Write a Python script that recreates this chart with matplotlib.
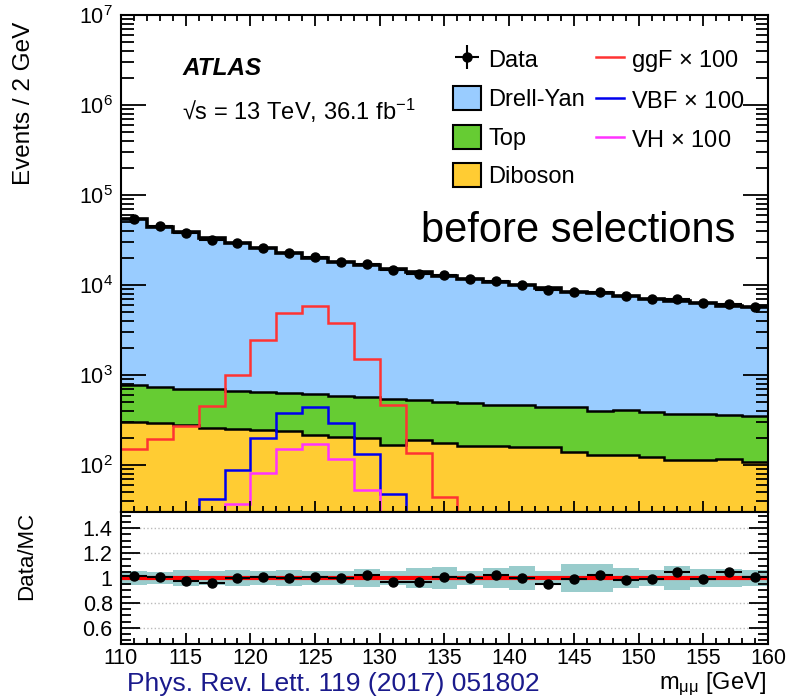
"""
ATLAS H->mumu invariant mass, before selections, with data/MC ratio panel
"""

import matplotlib
matplotlib.use('Agg')
import matplotlib.pyplot as plt
import numpy as np
from matplotlib.ticker import MultipleLocator, LogLocator, FuncFormatter, NullFormatter
from matplotlib.patches import Patch
from matplotlib.lines import Line2D

plt.rcParams['font.family'] = ['Liberation Sans', 'DejaVu Sans']
plt.rcParams['mathtext.fontset'] = 'custom'
plt.rcParams['mathtext.rm'] = 'Liberation Sans'
plt.rcParams['mathtext.it'] = 'Liberation Sans:italic'
plt.rcParams['mathtext.bf'] = 'Liberation Sans:bold'

# bins of m_mumu (2 GeV)
bin_edges = list(range(110, 162, 2))

# backgrounds (events / 2 GeV)
drell_yan = [53230, 43760, 37800, 32310, 28340, 24850, 21860, 19490, 17520, 16130,
             14450, 13270, 12200, 11170, 10240, 9540, 8895, 7990, 7750, 7190,
             6600, 6325, 5935, 5530, 5300]
top = [471, 451, 424, 435, 411, 402, 398, 397, 382, 376, 379, 344, 321, 321, 301,
       303, 285, 297, 273, 279, 269, 252, 252, 242, 243]
diboson = [303, 290, 281, 258, 253, 245, 239, 214, 203, 198, 167, 188, 177, 163, 163,
           157, 160, 141, 129, 129, 122, 114, 114, 117, 107]

# observed data
data_counts = [54700, 44720, 37690, 31610, 29090, 25630, 22430, 20200, 18050, 17050,
               14570, 13330, 12830, 11650, 10980, 10000, 8900, 8390, 8360, 7500,
               6955, 7025, 6270, 6155, 5680]

# signals x 100
ggf_x100 = [151, 193, 271, 453, 1000, 2450, 4920, 5840, 3750, 1490, 464, 135, 44.5,
            0, 0, 0, 0, 0, 0, 0, 0, 0, 0, 0, 0]
vbf_x100 = [0, 0, 0, 42, 88, 201, 375, 441, 290, 131, 47, 0, 0,
            0, 0, 0, 0, 0, 0, 0, 0, 0, 0, 0, 0]
vh_x100 = [0, 0, 0, 0, 37, 82, 151, 171, 116, 53, 0, 0, 0,
           0, 0, 0, 0, 0, 0, 0, 0, 0, 0, 0, 0]

# relative MC uncertainty (ratio band half width)
mc_unc = [0.055, 0.05, 0.063, 0.055, 0.067, 0.057, 0.062, 0.057, 0.054, 0.072,
          0.06, 0.084, 0.092, 0.059, 0.079, 0.096, 0.059, 0.114, 0.114, 0.084,
          0.067, 0.098, 0.072, 0.072, 0.063]

ratio_grid = [0.6, 0.8, 1.2, 1.4]

c_dy = '#99ccff'
c_top = '#66cc33'
c_dib = '#ffcc33'
c_band = '#99cccc'

edges = np.array(bin_edges, dtype=float)
centers = 0.5 * (edges[1:] + edges[:-1])
half_w = 0.5 * np.diff(edges)
dib = np.array(diboson, dtype=float)
cum_top = dib + np.array(top)
cum_all = cum_top + np.array(drell_yan)
data = np.array(data_counts, dtype=float)
ratio = data / cum_all
ratio_err = np.sqrt(data) / cum_all
unc = np.array(mc_unc)

fig = plt.figure(figsize=(7.86, 6.99), dpi=100, facecolor='white')
ax = fig.add_axes([121/786, 1 - 512/699, 647/786, 497/699])
axr = fig.add_axes([121/786, 1 - 644/699, 647/786, 132/699], sharex=ax)

# main panel: stacked backgrounds
ax.stairs(cum_all, edges, baseline=cum_top, fill=True, color=c_dy)
ax.stairs(cum_top, edges, baseline=dib, fill=True, color=c_top)
ax.stairs(dib, edges, baseline=1, fill=True, color=c_dib)
ax.stairs(dib, edges, baseline=None, color='black', lw=1.8)
ax.stairs(cum_top, edges, baseline=None, color='black', lw=1.8)
ax.stairs(cum_all, edges, baseline=None, color='black', lw=2.6)

# signals
ax.stairs(ggf_x100, edges, baseline=None, color='#ff3333', lw=1.8)
ax.stairs(vbf_x100, edges, baseline=None, color='#0000ee', lw=1.8)
ax.stairs(vh_x100, edges, baseline=None, color='#ff33ff', lw=1.8)

data_eb = ax.errorbar(centers, data, yerr=np.sqrt(data), xerr=half_w, fmt='o', color='black',
                      ms=6.5, lw=1.5, capsize=0, zorder=5)

ax.set_yscale('log')
ax.set_xlim(110, 160)
ax.set_ylim(30, 1e7)
ax.xaxis.set_major_locator(MultipleLocator(5))
ax.xaxis.set_minor_locator(MultipleLocator(1))
ax.yaxis.set_major_locator(LogLocator(base=10, numticks=10))
ax.yaxis.set_minor_locator(LogLocator(base=10, subs=np.arange(2, 10), numticks=20))
ax.yaxis.set_minor_formatter(NullFormatter())
ax.tick_params(which='both', direction='in', top=True, right=True, labelbottom=False,
               width=1.3, labelsize=15.5)
ax.tick_params(axis='x', which='major', length=8)
ax.tick_params(axis='x', which='minor', length=4)
ax.tick_params(axis='y', which='major', length=18, pad=6)
ax.tick_params(axis='y', which='minor', length=9)
for s in ax.spines.values():
    s.set_linewidth(1.5)

# legends
fs = 17
leg_kw = dict(loc='upper left', bbox_transform=fig.transFigure, frameon=False, fontsize=fs,
              handlelength=1.2, handleheight=1.2, handletextpad=0.3,
              labelspacing=0.58, borderpad=0, borderaxespad=0)
leg1 = ax.legend([data_eb,
                  Patch(facecolor=c_dy, edgecolor='black', lw=1.5),
                  Patch(facecolor=c_top, edgecolor='black', lw=1.5),
                  Patch(facecolor=c_dib, edgecolor='black', lw=1.5)],
                 ['Data', 'Drell-Yan', 'Top', 'Diboson'],
                 bbox_to_anchor=(453/786, 1 - 47/699), **leg_kw)
ax.add_artist(leg1)
ax.legend([Line2D([], [], color='#ff3333', lw=1.8),
           Line2D([], [], color='#0000ee', lw=1.8),
           Line2D([], [], color='#ff33ff', lw=1.8)],
          [r'ggF $\times$ 100', r'VBF $\times$ 100', r'VH $\times$ 100'],
          bbox_to_anchor=(596/786, 1 - 47/699), **leg_kw)

# labels
fig.text(182/786, 1 - 75/699, 'ATLAS', fontsize=17.5, fontweight='bold', fontstyle='italic',
         va='baseline', ha='left')
fig.text(182/786, 1 - 120/699, r'√s = 13 TeV, 36.1 fb$^{-1}$', fontsize=17,
         va='baseline', ha='left')
fig.text(421/786, 1 - 242/699, 'before selections', fontsize=30, va='baseline', ha='left')
fig.text(24/786, 1 - 22/699, 'Events / 2 GeV', fontsize=17.5, rotation=90,
         ha='center', va='top')

# ratio panel
axr.stairs(1 + unc, edges, baseline=1 - unc, fill=True, color=c_band, zorder=1)
for v in ratio_grid:
    axr.axhline(v, ls=':', color='#bbbbbb', lw=1, zorder=0)
axr.axhline(1, color='#ff0000', lw=3, zorder=2)
axr.errorbar(centers, ratio, yerr=ratio_err, xerr=half_w, fmt='o', color='black',
             ms=6.5, lw=1.5, capsize=0, zorder=5)
axr.set_ylim(0.47, 1.53)
axr.set_xlim(110, 160)
axr.yaxis.set_major_locator(MultipleLocator(0.2))
axr.yaxis.set_minor_locator(MultipleLocator(0.05))
axr.yaxis.set_major_formatter(FuncFormatter(lambda v, p: '%g' % round(v, 2)))
axr.tick_params(which='both', direction='in', right=True, top=False, width=1.3, labelsize=15.5)
axr.tick_params(axis='x', which='major', length=8, pad=3)
axr.tick_params(axis='x', which='minor', length=4)
axr.tick_params(axis='y', which='major', length=14, pad=6)
axr.tick_params(axis='y', which='minor', length=7)
for s in axr.spines.values():
    s.set_linewidth(1.5)

fig.text(27/786, 1 - 556/699, 'Data/MC', fontsize=16, rotation=90, ha='center', va='center')
fig.text(766/786, 1 - 689/699, r'm$_{\mathrm{\mu\mu}}$ [GeV]', fontsize=17,
         ha='right', va='baseline')
fig.text(127/786, 1 - 691/699, 'Phys. Rev. Lett. 119 (2017) 051802', fontsize=19,
         color='#1a1a8c', ha='left', va='baseline')

fig.savefig('out.png', dpi=100, facecolor='white')
plt.close(fig)
